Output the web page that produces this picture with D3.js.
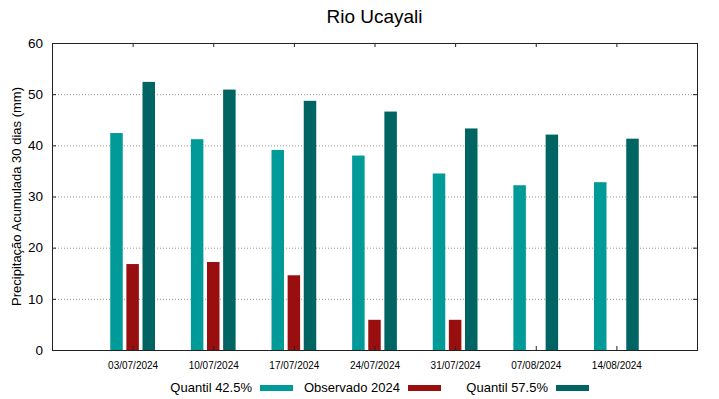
<!DOCTYPE html>
<html>
<head>
<meta charset="utf-8">
<script src="https://cdn.jsdelivr.net/npm/d3@7"></script>
<style>
  body { margin: 0; background: #fff; }
  text { font-family: "Liberation Sans", Arial, sans-serif; fill: #000; }
</style>
</head>
<body>
<svg width="719" height="399"></svg>
<script>
// data
const dates = ["03/07/2024", "10/07/2024", "17/07/2024", "24/07/2024", "31/07/2024", "07/08/2024", "14/08/2024"];
const q425 = [42.4, 41.2, 39.1, 38.0, 34.5, 32.2, 32.8];
const obs2024 = [16.8, 17.2, 14.6, 5.9, 5.9, null, null];
const q575 = [52.4, 50.9, 48.7, 46.6, 43.3, 42.1, 41.3];
const yTicks = [0, 10, 20, 30, 40, 50, 60];

const series = [
  { name: "Quantil 42.5%", values: q425, color: "#009a99", offset: -0.2 },
  { name: "Observado 2024", values: obs2024, color: "#990f0f", offset: 0 },
  { name: "Quantil 57.5%", values: q575, color: "#006562", offset: 0.2 }
];

const svg = d3.select("svg");
const margin = { top: 43, right: 22, bottom: 49, left: 52 };
const width = +svg.attr("width");
const height = +svg.attr("height");
const plotW = width - margin.left - margin.right;
const plotH = height - margin.top - margin.bottom;

const x = d3.scaleLinear().domain([0, dates.length + 1]).range([margin.left, margin.left + plotW]);
const y = d3.scaleLinear().domain([0, 60]).range([margin.top + plotH, margin.top]);
const barW = x(0.155) - x(0);

// grid
svg.append("g")
  .selectAll("line")
  .data(yTicks.filter(d => d > 0 && d < 60))
  .enter().append("line")
    .attr("x1", margin.left)
    .attr("x2", margin.left + plotW)
    .attr("y1", d => y(d) + 0.5)
    .attr("y2", d => y(d) + 0.5)
    .attr("stroke", "#999")
    .attr("stroke-width", 1)
    .attr("stroke-dasharray", "1,2");

// bars
series.forEach(s => {
  svg.append("g")
    .selectAll("rect")
    .data(s.values.map((v, i) => ({ v, i })).filter(d => d.v != null))
    .enter().append("rect")
      .attr("x", d => x(d.i + 1 + s.offset) - barW / 2)
      .attr("y", d => y(d.v))
      .attr("width", barW)
      .attr("height", d => y(0) - y(d.v))
      .attr("fill", s.color);
});

// axes
const yAxis = d3.axisLeft(y).tickValues(yTicks).tickSize(-4).tickPadding(9);
svg.append("g")
  .attr("transform", `translate(${margin.left},0)`)
  .call(yAxis)
  .call(g => g.select(".domain").remove())
  .call(g => g.selectAll("line").attr("stroke", "#222"))
  .call(g => g.selectAll("text").style("font-size", "13.5px"));

svg.append("g")
  .attr("transform", `translate(${margin.left + plotW},0)`)
  .call(d3.axisRight(y).tickValues(yTicks).tickSize(-4).tickFormat(""))
  .call(g => g.select(".domain").remove())
  .call(g => g.selectAll("line").attr("stroke", "#222"));

const xTickVals = dates.map((d, i) => i + 1);
svg.append("g")
  .attr("transform", `translate(0,${margin.top + plotH})`)
  .call(d3.axisBottom(x).tickValues(xTickVals).tickSize(-4).tickPadding(12).tickFormat((d, i) => dates[i]))
  .call(g => g.select(".domain").remove())
  .call(g => g.selectAll("line").attr("stroke", "#222"))
  .call(g => g.selectAll("text").style("font-size", "10px"));

svg.append("g")
  .attr("transform", `translate(0,${margin.top})`)
  .call(d3.axisTop(x).tickValues(xTickVals).tickSize(-4).tickFormat(""))
  .call(g => g.select(".domain").remove())
  .call(g => g.selectAll("line").attr("stroke", "#222"));

// border
svg.append("rect")
  .attr("x", margin.left + 0.5)
  .attr("y", margin.top + 0.5)
  .attr("width", plotW)
  .attr("height", plotH)
  .attr("fill", "none")
  .attr("stroke", "#222")
  .attr("stroke-width", 1);

// title
svg.append("text")
  .attr("x", margin.left + plotW / 2)
  .attr("y", 23)
  .attr("text-anchor", "middle")
  .style("font-size", "19px")
  .text("Rio Ucayali");

// y label
svg.append("text")
  .attr("transform", `translate(21,${margin.top + plotH / 2}) rotate(-90)`)
  .attr("text-anchor", "middle")
  .style("font-size", "13px")
  .text("Precipitação Acumulada 30 dias (mm)");

// legend
const legendEnd = [252, 400, 548];
const legend = svg.append("g");
series.forEach((s, i) => {
  legend.append("text")
    .attr("x", legendEnd[i])
    .attr("y", 392)
    .attr("text-anchor", "end")
    .style("font-size", "13px")
    .text(s.name);
  legend.append("rect")
    .attr("x", legendEnd[i] + 8)
    .attr("y", 385)
    .attr("width", 33)
    .attr("height", 6)
    .attr("fill", s.color);
});
</script>
</body>
</html>
